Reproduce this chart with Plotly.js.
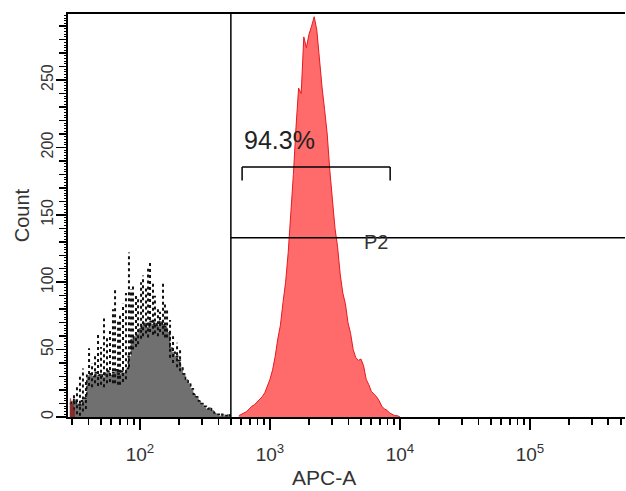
<!DOCTYPE html>
<html>
<head>
<meta charset="utf-8">
<script src="https://cdn.plot.ly/plotly-3.0.1.min.js"></script>
<style>html,body{margin:0;padding:0;background:#fff;}#chart{width:626px;height:491px;}</style>
</head>
<body>
<div id="chart"></div>
<script>
// ---- Data (log10 of APC-A channel for each histogram bin, and counts) ----
const grayLog = [1.46,1.48,1.50,1.52,1.54,1.56,1.58,1.60,1.62,1.64,1.66,1.68,1.70,1.72,1.74,1.76,1.78,1.80,1.82,1.84,1.86,1.88,1.90,1.92,1.94,1.96,1.98,2.00,2.02,2.04,2.06,2.08,2.10,2.12,2.14,2.16,2.18,2.20,2.22,2.24,2.26,2.28,2.30,2.32,2.34,2.36,2.38,2.40,2.42,2.44,2.46,2.48,2.50,2.52,2.54,2.56,2.58,2.60,2.62,2.64,2.66,2.68,2.70];
const grayFill = [10,12,13,10,9,12,14,31,32,30,33,31,32,30,33,34,31,33,35,32,34,33,36,45,58,60,62,66,68,70,67,71,69,70,68,71,69,67,63,52,48,45,42,37,32,28,25,21,17,15,12,10,8,6,7,5,3,2,1,2,1,2,1];
// spiky (discrete-channel) counts drawn as dotted vertical lines above the grey fill
const spikeLog = [1.492,1.515,1.538,1.561,1.584,1.608,1.631,1.654,1.677,1.700,1.723,1.746,1.769,1.792,1.808,1.831,1.846,1.869,1.892,1.915,1.931,1.946,1.969,1.985,2.008,2.023,2.046,2.062,2.077,2.100,2.115,2.138,2.154,2.177,2.192,2.208,2.231,2.254,2.285,2.308];
const spikeTop = [18,22,30,36,28,51,40,46,61,52,73,60,66,80,96,72,77,84,92,122,95,99,90,88,100,105,96,110,115,100,90,80,78,99,85,79,72,60,55,50];
const redLowLog = [1.46,1.48,1.50];
const redLowCounts = [14,10,6];
const redLog = [2.76,2.78,2.80,2.82,2.84,2.86,2.88,2.90,2.92,2.94,2.96,2.98,3.00,3.02,3.04,3.06,3.08,3.10,3.12,3.14,3.16,3.18,3.20,3.22,3.24,3.26,3.28,3.30,3.32,3.34,3.36,3.38,3.40,3.42,3.44,3.46,3.48,3.50,3.52,3.54,3.56,3.58,3.60,3.62,3.64,3.66,3.68,3.70,3.72,3.74,3.76,3.78,3.80,3.82,3.84,3.86,3.88,3.90,3.92,3.94,3.96,3.98,4.00];
const redCounts = [1,2,3,4,6,8,9,11,13,15,18,23,28,35,45,58,68,85,100,122,150,180,215,244,240,282,274,284,290,297,287,265,245,228,210,183,158,140,126,106,92,84,70,62,50,44,42,43,38,28,24,19,17,15,12,8,6,5,3,2,1,1,0];

const xMajorVals = [100, 1000, 10000, 100000];
const xMajorText = ['10<sup>2</sup>', '10<sup>3</sup>', '10<sup>4</sup>', '10<sup>5</sup>'];
const yTickVals = [0, 50, 100, 150, 200, 250];

const gateX = 500;          // vertical marker position (APC-A)
const gateY = 133;          // horizontal marker (count)
const bracketX = [610, 8400];
const bracketY = 185.5;
const bracketTickY = 175.5;
const pctLabel = '94.3%';
const gateLabel = 'P2';
const xTitle = 'APC-A';
const yTitle = 'Count';

// ---- Build ----
const toLin = a => a.map(v => Math.pow(10, v));
const FONT = '"Liberation Sans", Arial, sans-serif';

const minorVals = [];
for (let e = 1; e <= 5; e++) for (let m = 2; m <= 9; m++) minorVals.push(m * Math.pow(10, e));

// vertical dotted spike segments, starting a little below the grey fill edge
const spX = [], spY = [];
spikeLog.forEach((L, i) => {
  const idx = Math.max(0, Math.min(grayFill.length - 1, Math.round((L - grayLog[0]) / (grayLog[1] - grayLog[0]))));
  const base = Math.max(0, grayFill[idx] - 8);
  const xv = Math.pow(10, L);
  spX.push(xv, xv, null);
  spY.push(base, spikeTop[i], null);
});

const traces = [
  { x: toLin(grayLog), y: grayFill, type: 'scatter', mode: 'lines', line: {shape: 'hvh', width: 0, color: 'rgb(112,112,112)'},
    fill: 'tozeroy', fillcolor: 'rgb(112,112,112)', hoverinfo: 'skip' },
  { x: toLin(grayLog), y: grayFill, type: 'scatter', mode: 'lines', line: {shape: 'hvh', width: 1.6, color: '#111', dash: 'dot'}, hoverinfo: 'skip' },
  { x: spX, y: spY, type: 'scatter', mode: 'lines', connectgaps: false, line: {width: 2, color: '#111', dash: 'dot'}, hoverinfo: 'skip' },
  { x: toLin(redLowLog), y: redLowCounts, type: 'scatter', mode: 'lines', line: {shape: 'hvh', width: 0, color: 'rgba(150,20,20,0.7)'},
    fill: 'tozeroy', fillcolor: 'rgba(140,20,20,0.7)', hoverinfo: 'skip' },
  { x: toLin(redLog), y: redCounts, type: 'scatter', mode: 'lines', line: {shape: 'linear', width: 1, color: 'rgb(230,25,30)'},
    fill: 'tozeroy', fillcolor: 'rgba(255,102,102,0.97)', hoverinfo: 'skip' },
  { x: [], y: [], xaxis: 'x2', yaxis: 'y2', type: 'scatter', hoverinfo: 'skip' }
];

const xr = [1.446, 5.731];
const yr = [0, 299];

const layout = {
  width: 626, height: 491,
  margin: {l: 68, r: 1, t: 14, b: 74, pad: 0},
  paper_bgcolor: '#fff', plot_bgcolor: '#fff',
  showlegend: false,
  font: {family: FONT, color: '#333'},
  xaxis: {
    type: 'log', range: xr, tickvals: xMajorVals, ticktext: xMajorText,
    ticks: 'outside', ticklen: 11, tickwidth: 1.5, tickcolor: '#000',
    showline: true, linecolor: '#000', linewidth: 2, mirror: true,
    showgrid: false, zeroline: false, tickfont: {size: 19, color: '#333'},
    ticklabelstandoff: 8
  },
  yaxis: {
    range: yr, tickvals: yTickVals, tickangle: -90,
    ticks: 'outside', ticklen: 10, tickwidth: 1.5, tickcolor: '#000',
    minor: {dtick: 10, tick0: 0, ticks: 'outside', ticklen: 7, tickwidth: 1.5, tickcolor: '#000', showgrid: false},
    showline: true, linecolor: '#000', linewidth: 2, mirror: false,
    showgrid: false, zeroline: false, tickfont: {size: 16, color: '#333'},
    ticklabelstandoff: -3,
    title: {text: yTitle, font: {size: 20, color: '#333'}, standoff: 4}
  },
  xaxis2: {
    type: 'log', range: xr, overlaying: 'x', anchor: 'y', side: 'bottom',
    tickvals: minorVals, ticks: 'outside', ticklen: 7, tickwidth: 1.5, tickcolor: '#000',
    showticklabels: false, showgrid: false, showline: false, zeroline: false
  },
  yaxis2: {
    range: yr, overlaying: 'y', anchor: 'x', side: 'left', dtick: 2, tick0: 0,
    ticks: 'outside', ticklen: 3, tickwidth: 1, tickcolor: '#000',
    showticklabels: false, showgrid: false, showline: false, zeroline: false
  },
  shapes: [
    {type: 'line', xref: 'x', yref: 'paper', x0: gateX, x1: gateX, y0: 0, y1: 1, line: {color: '#000', width: 1.5}},
    {type: 'line', xref: 'x', yref: 'y', x0: gateX, x1: Math.pow(10, xr[1]), y0: gateY, y1: gateY, line: {color: '#000', width: 1.5}},
    {type: 'line', xref: 'x', yref: 'y', x0: bracketX[0], x1: bracketX[1], y0: bracketY, y1: bracketY, line: {color: '#000', width: 1.5}},
    {type: 'line', xref: 'x', yref: 'y', x0: bracketX[0], x1: bracketX[0], y0: bracketY, y1: bracketTickY, line: {color: '#000', width: 1.5}},
    {type: 'line', xref: 'x', yref: 'y', x0: bracketX[1], x1: bracketX[1], y0: bracketY, y1: bracketTickY, line: {color: '#000', width: 1.5}}
  ],
  annotations: [
    {text: pctLabel, xref: 'x', yref: 'y', x: Math.log10(bracketX[0]), y: 205.5, xanchor: 'left', yanchor: 'middle',
     showarrow: false, font: {size: 25, color: '#222', family: FONT}},
    {text: gateLabel, xref: 'x', yref: 'y', x: Math.log10(6530), y: 129.5, xanchor: 'center', yanchor: 'middle',
     showarrow: false, font: {size: 20, color: '#333', family: FONT}},
    {text: xTitle, xref: 'paper', yref: 'paper', x: (324 - 68) / 557, y: -0.151, xanchor: 'center', yanchor: 'middle',
     showarrow: false, font: {size: 21, color: '#333', family: FONT}}
  ]
};

Plotly.newPlot('chart', traces, layout, {displayModeBar: false, staticPlot: true});
</script>
</body>
</html>
